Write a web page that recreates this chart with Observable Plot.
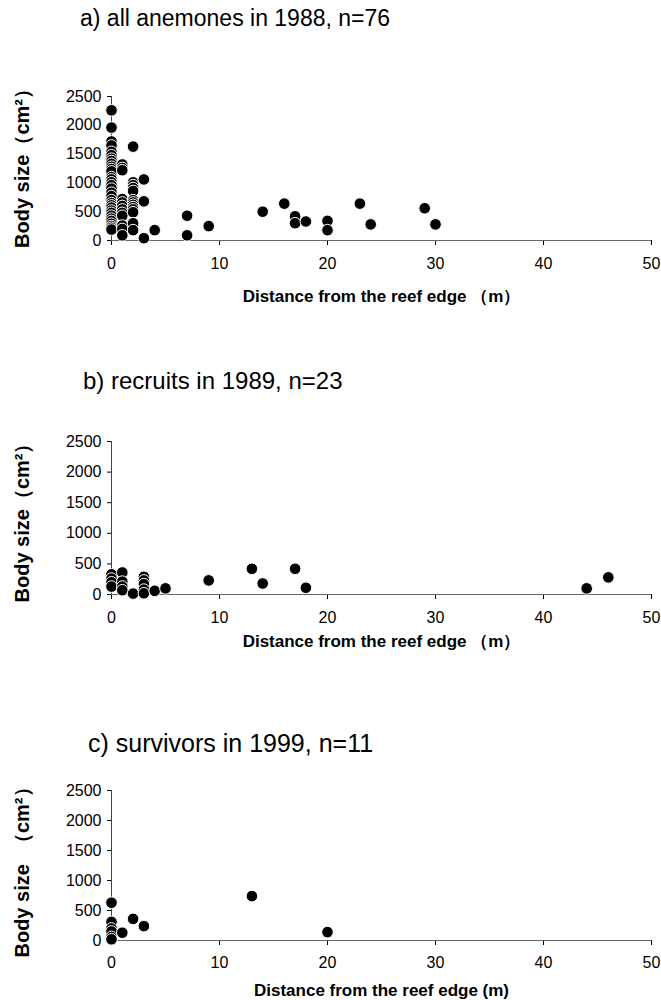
<!DOCTYPE html>
<html><head><meta charset="utf-8">
<script src="https://cdn.jsdelivr.net/npm/d3@7"></script>
<script src="https://cdn.jsdelivr.net/npm/@observablehq/plot@0.6"></script>
<style>
body{margin:0;background:#fff;}
#wrap{position:relative;width:661px;height:1000px;overflow:hidden;}
.title{position:absolute;font-family:"Liberation Sans",Arial,sans-serif;font-size:24px;line-height:28px;color:#000;white-space:nowrap;}
.panel{position:absolute;left:0;}
</style></head><body><div id="wrap"></div>
<script>
const xTicks = [0, 10, 20, 30, 40, 50];
const yTicks = [0, 500, 1000, 1500, 2000, 2500];

const titles = ["a) all anemones in 1988, n=76", "b) recruits in 1989, n=23", "c) survivors in 1999, n=11"];
const xLabels = ["Distance from the reef edge （m）", "Distance from the reef edge （m）", "Distance from the reef edge (m)"];
const yLabels = ["Body size（cm²）", "Body size（cm²）", "Body size  （cm²）"];

// a) all anemones in 1988 (distance m, body size cm²)
const aDist = [0,0,0,0,0,0,0,0,0,0,0,0,0,0,0,0,0,0,0,0,0,0,0,0,0,0,0,0,0,0,0,0,
  1,1,1,1,1,1,1,1,1,1,1,1,
  2,2,2,2,2,2,2,2,2,2,2,2,2,
  3,3,3,4,7,7,9,14,16,17,17,18,20,20,23,24,29,30];
const aSize = [2260,1960,1720,1650,1540,1480,1420,1380,1330,1280,1240,1200,1100,1060,1010,960,900,830,770,700,650,610,570,520,480,430,380,340,290,250,220,190,
  1320,1260,1220,720,660,600,540,480,430,260,200,90,
  1630,1010,960,910,860,700,660,620,580,540,490,300,180,
  1060,680,40,180,430,90,250,500,640,420,300,330,340,180,640,280,560,280];

// b) recruits in 1989
const bDist = [0,0,0,0,1,1,1,1,2,3,3,3,3,3,4,5,9,13,14,17,18,44,46];
const bSize = [330,260,200,130,360,210,130,70,15,290,230,170,80,20,60,100,230,420,180,420,110,100,280];

// c) survivors in 1999
const cDist = [0,0,0,0,0,0,1,2,3,13,20];
const cSize = [630,310,200,150,60,20,130,360,240,740,140];

const layout = [
  {top:40, height:275, mt:56, ph:144, tp:12, xdy:56, ydy:-5, titleTop:4, titleLeft:80, tfs:23},
  {top:400, height:265, mt:41, ph:153, tp:12, xdy:47, ydy:0, titleTop:367, titleLeft:83, tfs:24},
  {top:760, height:240, mt:30, ph:150, tp:11, xdy:50, ydy:2, titleTop:729, titleLeft:88, tfs:25}
];

function panel(dist, size, o, xl, yl){
  const data = dist.map((d,i)=>({d, s:size[i]}));
  return Plot.plot({
    width:661, height:o.height, marginLeft:111, marginRight:10,
    marginTop:o.mt, marginBottom:o.height-o.mt-o.ph,
    style:{fontFamily:"'Liberation Sans', Arial, sans-serif", fontSize:"16px", background:"white", color:"black", overflow:"visible"},
    x:{domain:[0,50]}, y:{domain:[0,2500]},
    marks:[
      Plot.axisY({ticks:yTicks, tickSize:4, tickPadding:6, label:null, tickFormat:d=>String(d)}),
      Plot.axisX({ticks:xTicks, tickSize:5, tickPadding:o.tp, label:null, tickFormat:d=>String(d)}),
      Plot.ruleY([0],{stroke:"#666"}),
      Plot.ruleX([0],{y1:0, y2:2500, stroke:"#444"}),
      Plot.dot(data,{x:"d", y:"s", r:5.8, fill:"black", stroke:"white", strokeWidth:1}),
      Plot.text([xl],{text:d=>d, frameAnchor:"bottom", dy:o.xdy, fontWeight:"bold", fontSize:17, lineAnchor:"middle", textAnchor:"middle"}),
      Plot.text([yl],{text:d=>d, frameAnchor:"left", dx:-89, dy:o.ydy, rotate:-90, fontWeight:"bold", fontSize:20, lineAnchor:"middle", textAnchor:"middle"})
    ]
  });
}

const wrap = document.getElementById("wrap");
const sets = [[aDist,aSize],[bDist,bSize],[cDist,cSize]];
sets.forEach(([d,s],i)=>{
  const o = layout[i];
  const t = document.createElement("div");
  t.className = "title";
  t.style.top = o.titleTop + "px";
  t.style.left = o.titleLeft + "px";
  t.style.fontSize = o.tfs + "px";
  t.textContent = titles[i];
  wrap.appendChild(t);
  const p = document.createElement("div");
  p.className = "panel";
  p.style.top = o.top + "px";
  p.appendChild(panel(d, s, o, xLabels[i], yLabels[i]));
  wrap.appendChild(p);
});
</script>
</body></html>
